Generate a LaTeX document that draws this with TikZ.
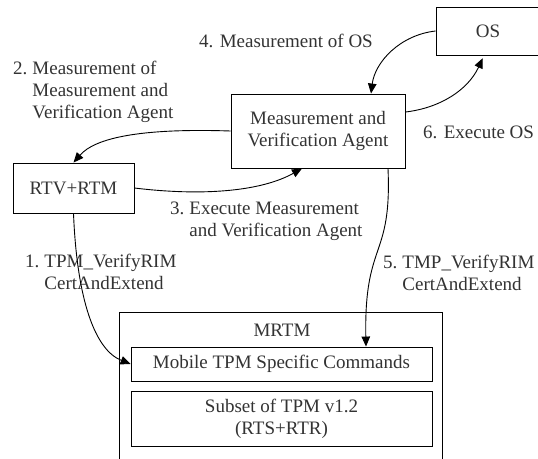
\documentclass[tikz,border=0pt]{standalone}
\usepackage{fontspec}
\setmainfont{Liberation Serif}
\usetikzlibrary{arrows.meta}
\newcommand{\numgap}{\hspace*{5pt}}
\begin{document}
\begin{tikzpicture}[x=1pt,y=-1pt,
  font=\fontsize{19}{22}\selectfont,
  box/.style={draw=black,line width=0.9pt,inner sep=0pt,align=center,text=black!80},
  lbl/.style={inner sep=0pt,anchor=west,text=black!80},
  conn/.style={line width=0.9pt,-{Triangle[length=10pt,width=8.5pt]}}]
\useasboundingbox (0,0) rectangle (538,458);
\clip (0,0) rectangle (538,458);
\fill[white] (0,0) rectangle (538,458);
% boxes
\node[box,minimum width=104pt,minimum height=48pt] (os) at (488,31) {OS};
\node[box,minimum width=174pt,minimum height=74pt] (mva) at (318,131) {Measurement and\\Verification Agent};
\node[box,minimum width=121pt,minimum height=50pt] (rtv) at (73.5,188) {RTV+RTM};
\node[box,minimum width=323pt,minimum height=160pt] (mrtm) at (280.5,392) {};
\node[inner sep=0pt,text=black!80] (mrtmlbl) at (282,330) {MRTM};
\node[box,minimum width=301pt,minimum height=34pt] (mobile) at (281.5,364) {Mobile TPM Specific Commands};
\node[box,minimum width=301pt,minimum height=55pt] (subset) at (281.5,418.5) {Subset of TPM v1.2\\(RTS+RTR)};
% labels
\node[lbl] (l4) at (199,41) {4. Measurement of OS};
\node[lbl] (l6) at (423,132) {6. Execute OS};
\node[lbl] (l2) at (13,92) {\begin{tabular}{@{}l@{}l@{}}2.\numgap&Measurement of\\&Measurement and\\&Verification Agent\end{tabular}};
\node[lbl] (l3) at (170,221.5) {\begin{tabular}{@{}l@{}l@{}}3.\numgap&Execute Measurement\\&and Verification Agent\end{tabular}};
\node[lbl] (l1) at (25,274.5) {\begin{tabular}{@{}l@{}l@{}}1.\numgap&TPM\_VerifyRIM\\&CertAndExtend\end{tabular}};
\node[lbl] (l5) at (383,275) {\begin{tabular}{@{}l@{}l@{}}5.\numgap&TMP\_VerifyRIM\\&CertAndExtend\end{tabular}};
% connectors
\draw[conn] (rtv.south) .. controls (77,300) and (95,350) .. (mobile.west);
\draw[conn] (mva.west) .. controls (140,128) and (95,138) .. (rtv.north);
\draw[conn] (rtv.east) .. controls (200,196) and (260,192) .. ([xshift=-16pt]mva.south);
\draw[conn] (os.west) .. controls (400,35) and (375,62) .. ([xshift=53pt]mva.north);
\draw[conn,shorten >=3pt] ([yshift=19pt]mva.east) .. controls (440,108) and (468,90) .. ([xshift=-4pt]os.south);
\draw[conn] ([xshift=70pt]mva.south) .. controls (392,260) and (364,240) .. ([xshift=84.5pt]mobile.north);
\end{tikzpicture}
\end{document}
